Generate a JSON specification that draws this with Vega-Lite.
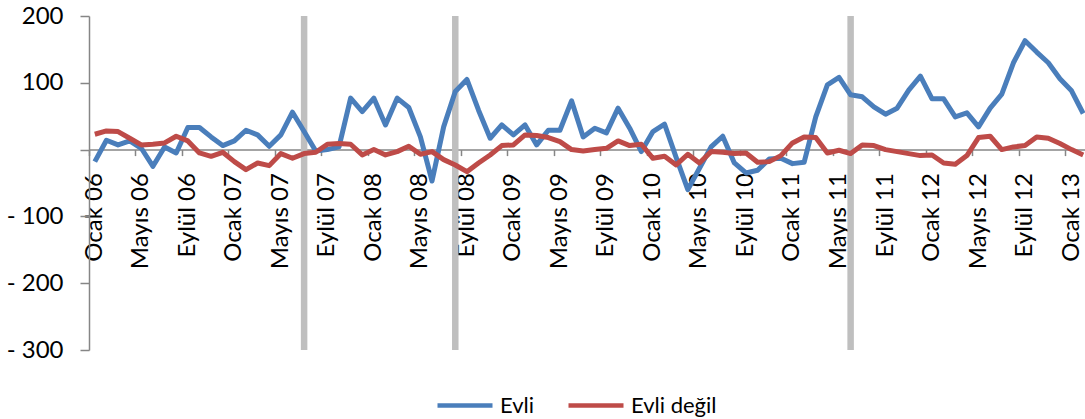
{
  "$schema": "https://vega.github.io/schema/vega-lite/v6.json",
  "width": 996,
  "height": 334,
  "autosize": {"type": "none"},
  "padding": {"left": 89, "top": 16, "right": 0, "bottom": 69},
  "background": "white",
  "config": {"view": {"stroke": null}, "font": "Lato", "axis": {"grid": false}},
  "datasets": {
    "olaylar": [{"ay": "Temmuz 07"}, {"ay": "Ağustos 08"}, {"ay": "Haziran 11"}],
    "veri": [
      {"ay": "Ocak 06", "Evli": -18, "Evli değil": 23},
      {"ay": "Şubat 06", "Evli": 14, "Evli değil": 28},
      {"ay": "Mart 06", "Evli": 7, "Evli değil": 27},
      {"ay": "Nisan 06", "Evli": 13, "Evli değil": 17},
      {"ay": "Mayıs 06", "Evli": 2, "Evli değil": 7},
      {"ay": "Haziran 06", "Evli": -25, "Evli değil": 8},
      {"ay": "Temmuz 06", "Evli": 4, "Evli değil": 10},
      {"ay": "Ağustos 06", "Evli": -5, "Evli değil": 20},
      {"ay": "Eylül 06", "Evli": 33, "Evli değil": 13},
      {"ay": "Ekim 06", "Evli": 33, "Evli değil": -5},
      {"ay": "Kasım 06", "Evli": 19, "Evli değil": -10},
      {"ay": "Aralık 06", "Evli": 6, "Evli değil": -4},
      {"ay": "Ocak 07", "Evli": 13, "Evli değil": -18},
      {"ay": "Şubat 07", "Evli": 29, "Evli değil": -30},
      {"ay": "Mart 07", "Evli": 22, "Evli değil": -20},
      {"ay": "Nisan 07", "Evli": 5, "Evli değil": -24},
      {"ay": "Mayıs 07", "Evli": 22, "Evli değil": -6},
      {"ay": "Haziran 07", "Evli": 56, "Evli değil": -13},
      {"ay": "Temmuz 07", "Evli": 27, "Evli değil": -6},
      {"ay": "Ağustos 07", "Evli": -2, "Evli değil": -4},
      {"ay": "Eylül 07", "Evli": 0, "Evli değil": 8},
      {"ay": "Ekim 07", "Evli": 4, "Evli değil": 9},
      {"ay": "Kasım 07", "Evli": 77, "Evli değil": 8},
      {"ay": "Aralık 07", "Evli": 57, "Evli değil": -8},
      {"ay": "Ocak 08", "Evli": 77, "Evli değil": 0},
      {"ay": "Şubat 08", "Evli": 37, "Evli değil": -8},
      {"ay": "Mart 08", "Evli": 77, "Evli değil": -3},
      {"ay": "Nisan 08", "Evli": 63, "Evli değil": 5},
      {"ay": "Mayıs 08", "Evli": 19, "Evli değil": -7},
      {"ay": "Haziran 08", "Evli": -47, "Evli değil": -3},
      {"ay": "Temmuz 08", "Evli": 34, "Evli değil": -15},
      {"ay": "Ağustos 08", "Evli": 87, "Evli değil": -23},
      {"ay": "Eylül 08", "Evli": 105, "Evli değil": -33},
      {"ay": "Ekim 08", "Evli": 59, "Evli değil": -20},
      {"ay": "Kasım 08", "Evli": 17, "Evli değil": -8},
      {"ay": "Aralık 08", "Evli": 37, "Evli değil": 6},
      {"ay": "Ocak 09", "Evli": 22, "Evli değil": 7},
      {"ay": "Şubat 09", "Evli": 37, "Evli değil": 22},
      {"ay": "Mart 09", "Evli": 7, "Evli değil": 21},
      {"ay": "Nisan 09", "Evli": 29, "Evli değil": 18},
      {"ay": "Mayıs 09", "Evli": 29, "Evli değil": 12},
      {"ay": "Haziran 09", "Evli": 73, "Evli değil": 0},
      {"ay": "Temmuz 09", "Evli": 19, "Evli değil": -2},
      {"ay": "Ağustos 09", "Evli": 32, "Evli değil": 0},
      {"ay": "Eylül 09", "Evli": 25, "Evli değil": 2},
      {"ay": "Ekim 09", "Evli": 62, "Evli değil": 13},
      {"ay": "Kasım 09", "Evli": 32, "Evli değil": 6},
      {"ay": "Aralık 09", "Evli": -3, "Evli değil": 8},
      {"ay": "Ocak 10", "Evli": 27, "Evli değil": -13},
      {"ay": "Şubat 10", "Evli": 38, "Evli değil": -10},
      {"ay": "Mart 10", "Evli": -12, "Evli değil": -23},
      {"ay": "Nisan 10", "Evli": -60, "Evli değil": -7},
      {"ay": "Mayıs 10", "Evli": -28, "Evli değil": -20},
      {"ay": "Haziran 10", "Evli": 4, "Evli değil": -3},
      {"ay": "Temmuz 10", "Evli": 20, "Evli değil": -4},
      {"ay": "Ağustos 10", "Evli": -20, "Evli değil": -6},
      {"ay": "Eylül 10", "Evli": -35, "Evli değil": -5},
      {"ay": "Ekim 10", "Evli": -31, "Evli değil": -19},
      {"ay": "Kasım 10", "Evli": -14, "Evli değil": -18},
      {"ay": "Aralık 10", "Evli": -13, "Evli değil": -9},
      {"ay": "Ocak 11", "Evli": -21, "Evli değil": 10},
      {"ay": "Şubat 11", "Evli": -19, "Evli değil": 19},
      {"ay": "Mart 11", "Evli": 49, "Evli değil": 18},
      {"ay": "Nisan 11", "Evli": 97, "Evli değil": -5},
      {"ay": "Mayıs 11", "Evli": 108, "Evli değil": -1},
      {"ay": "Haziran 11", "Evli": 82, "Evli değil": -6},
      {"ay": "Temmuz 11", "Evli": 79, "Evli değil": 7},
      {"ay": "Ağustos 11", "Evli": 64, "Evli değil": 6},
      {"ay": "Eylül 11", "Evli": 53, "Evli değil": 0},
      {"ay": "Ekim 11", "Evli": 62, "Evli değil": -3},
      {"ay": "Kasım 11", "Evli": 89, "Evli değil": -6},
      {"ay": "Aralık 11", "Evli": 110, "Evli değil": -9},
      {"ay": "Ocak 12", "Evli": 76, "Evli değil": -8},
      {"ay": "Şubat 12", "Evli": 76, "Evli değil": -20},
      {"ay": "Mart 12", "Evli": 49, "Evli değil": -22},
      {"ay": "Nisan 12", "Evli": 55, "Evli değil": -9},
      {"ay": "Mayıs 12", "Evli": 34, "Evli değil": 18},
      {"ay": "Haziran 12", "Evli": 62, "Evli değil": 20},
      {"ay": "Temmuz 12", "Evli": 83, "Evli değil": 0},
      {"ay": "Ağustos 12", "Evli": 130, "Evli değil": 4},
      {"ay": "Eylül 12", "Evli": 163, "Evli değil": 6},
      {"ay": "Ekim 12", "Evli": 146, "Evli değil": 19},
      {"ay": "Kasım 12", "Evli": 130, "Evli değil": 17},
      {"ay": "Aralık 12", "Evli": 106, "Evli değil": 9},
      {"ay": "Ocak 13", "Evli": 88, "Evli değil": 0},
      {"ay": "Şubat 13", "Evli": 54, "Evli değil": -8}
    ]
  },
  "encoding": {
    "x": {
      "field": "ay",
      "type": "ordinal",
      "title": null,
      "scale": {
        "type": "band",
        "paddingInner": 0,
        "paddingOuter": 0,
        "range": [0, 1000],
        "domain": ["Ocak 06","Şubat 06","Mart 06","Nisan 06","Mayıs 06","Haziran 06","Temmuz 06","Ağustos 06","Eylül 06","Ekim 06","Kasım 06","Aralık 06",
                   "Ocak 07","Şubat 07","Mart 07","Nisan 07","Mayıs 07","Haziran 07","Temmuz 07","Ağustos 07","Eylül 07","Ekim 07","Kasım 07","Aralık 07",
                   "Ocak 08","Şubat 08","Mart 08","Nisan 08","Mayıs 08","Haziran 08","Temmuz 08","Ağustos 08","Eylül 08","Ekim 08","Kasım 08","Aralık 08",
                   "Ocak 09","Şubat 09","Mart 09","Nisan 09","Mayıs 09","Haziran 09","Temmuz 09","Ağustos 09","Eylül 09","Ekim 09","Kasım 09","Aralık 09",
                   "Ocak 10","Şubat 10","Mart 10","Nisan 10","Mayıs 10","Haziran 10","Temmuz 10","Ağustos 10","Eylül 10","Ekim 10","Kasım 10","Aralık 10",
                   "Ocak 11","Şubat 11","Mart 11","Nisan 11","Mayıs 11","Haziran 11","Temmuz 11","Ağustos 11","Eylül 11","Ekim 11","Kasım 11","Aralık 11",
                   "Ocak 12","Şubat 12","Mart 12","Nisan 12","Mayıs 12","Haziran 12","Temmuz 12","Ağustos 12","Eylül 12","Ekim 12","Kasım 12","Aralık 12",
                   "Ocak 13","Şubat 13"]
      },
      "axis": {
        "orient": "bottom",
        "offset": -200.4,
        "values": ["Ocak 06","Mayıs 06","Eylül 06","Ocak 07","Mayıs 07","Eylül 07","Ocak 08","Mayıs 08","Eylül 08","Ocak 09","Mayıs 09","Eylül 09","Ocak 10","Mayıs 10","Eylül 10","Ocak 11","Mayıs 11","Eylül 11","Ocak 12","Mayıs 12","Eylül 12","Ocak 13"],
        "bandPosition": 0,
        "tickSize": 6,
        "tickColor": "#868686",
        "tickWidth": 1.5,
        "domainColor": "#868686",
        "domainWidth": 1.5,
        "labelAngle": -90,
        "labelFont": "Lato",
        "labelFontSize": 24,
        "labelColor": "#000000",
        "labelPadding": 17,
        "labelOverlap": false,
        "labelBound": false,
        "labelFlush": false
      }
    }
  },
  "layer": [
    {
      "data": {"name": "olaylar"},
      "mark": {"type": "rule", "color": "#BFBFBF", "strokeWidth": 6.5}
    },
    {
      "data": {"name": "veri"},
      "transform": [{"fold": ["Evli", "Evli değil"], "as": ["seri", "deger"]}],
      "mark": {"type": "line", "strokeWidth": 5, "strokeJoin": "round"},
      "encoding": {
        "y": {
          "field": "deger",
          "type": "quantitative",
          "title": null,
          "scale": {"domain": [-300, 200], "nice": false, "zero": false},
          "axis": {
            "values": [-300, -200, -100, 0, 100, 200],
            "labelExpr": "datum.value == 0 ? '' : (datum.value < 0 ? '- ' + abs(datum.value) : datum.label)",
            "tickSize": 9,
            "tickColor": "#868686",
            "tickWidth": 1.5,
            "domainColor": "#868686",
            "domainWidth": 1.5,
            "labelFont": "Lato",
            "labelFontSize": 24,
            "labelColor": "#000000",
            "labelPadding": 17,
            "grid": false
          }
        },
        "color": {
          "field": "seri",
          "type": "nominal",
          "scale": {"domain": ["Evli", "Evli değil"], "range": ["#4A7EBB", "#BE4B48"]},
          "legend": {
            "orient": "none",
            "legendX": 346,
            "legendY": 359.5,
            "direction": "horizontal",
            "title": null,
            "symbolType": "stroke",
            "symbolSize": 3025,
            "symbolStrokeWidth": 4.5,
            "labelFont": "Lato",
            "labelFontSize": 22,
            "labelColor": "#000000",
            "labelOffset": 5,
            "columnPadding": 24,
            "padding": 0
          }
        }
      }
    }
  ]
}
